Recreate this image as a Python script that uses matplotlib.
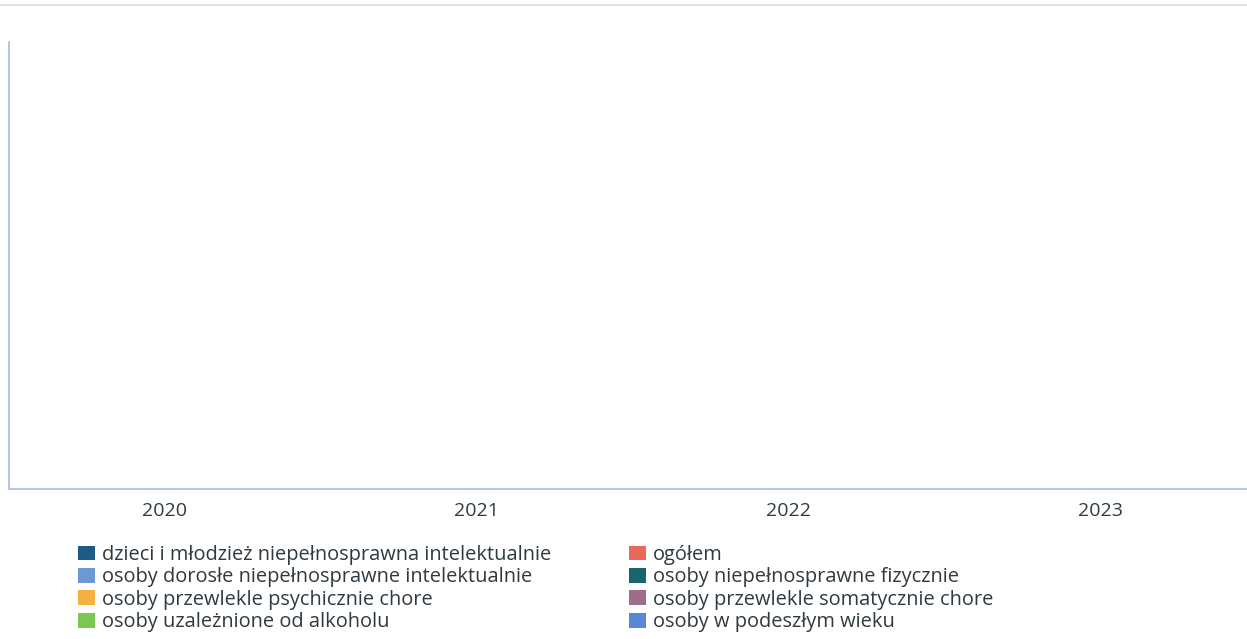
import matplotlib
matplotlib.use("Agg")
import matplotlib.pyplot as plt
from matplotlib.patches import Patch
import numpy as np

plt.rcParams['font.family'] = ['Open Sans', 'DejaVu Sans']

years = ["2020", "2021", "2022", "2023"]
series_col1 = [
    "dzieci i młodzież niepełnosprawna intelektualnie",
    "osoby dorosłe niepełnosprawne intelektualnie",
    "osoby przewlekle psychicznie chore",
    "osoby uzależnione od alkoholu",
]
series_col2 = [
    "ogółem",
    "osoby niepełnosprawne fizycznie",
    "osoby przewlekle somatycznie chore",
    "osoby w podeszłym wieku",
]
colors_col1 = ["#1d5a86", "#6e98d4", "#f4b042", "#7cc656"]
colors_col2 = ["#e9685a", "#17666f", "#9c6e89", "#5a86d6"]

# No values are visible in the chart (all series empty / zero)
values = {name: [0, 0, 0, 0] for name in series_col1 + series_col2}

W, H = 1247, 639
fig = plt.figure(figsize=(W / 100, H / 100), dpi=100)
left, right, top, bottom = 9, 1256, 42, 489
ax = fig.add_axes([left / W, (H - bottom) / H, (right - left) / W, (bottom - top) / H])

names = series_col1 + series_col2
cols = colors_col1 + colors_col2
x = np.arange(len(years))
n = len(names)
bw = 0.8 / n
for i, (nm, c) in enumerate(zip(names, cols)):
    ax.bar(x - 0.4 + bw * (i + 0.5), values[nm], width=bw, color=c, linewidth=0)

ax.set_xlim(-0.5, len(years) - 0.5)
ax.set_ylim(0, 1)
ax.set_xticks(x)
ax.set_xticklabels(years, fontsize=14, color="#2b3b47")
ax.tick_params(axis="x", length=0, pad=9.5)
ax.set_yticks([])
for s in ["top", "right"]:
    ax.spines[s].set_visible(False)
for s in ["left", "bottom"]:
    ax.spines[s].set_color("#a9c3e6")
    ax.spines[s].set_linewidth(1.3)

# faint rule at the very top
fig.add_artist(plt.Line2D([0, 1], [1 - 5 / H, 1 - 5 / H], color="#e2e2e2", lw=1.5))

leg_kw = dict(frameon=False, fontsize=14.4, handlelength=0.83, handleheight=0.76,
              handletextpad=0.36, labelspacing=0.12, borderpad=0, borderaxespad=0,
              loc="upper left")
h1 = [Patch(facecolor=c, edgecolor="none") for c in colors_col1]
h2 = [Patch(facecolor=c, edgecolor="none") for c in colors_col2]
l1 = fig.legend(h1, series_col1, bbox_to_anchor=(78 / W, 1 - 545 / H), **leg_kw)
l2 = fig.legend(h2, series_col2, bbox_to_anchor=(629 / W, 1 - 545 / H), **leg_kw)
for lg in (l1, l2):
    for t in lg.get_texts():
        t.set_color("#2f3a40")

fig.savefig("out.png", dpi=100)
